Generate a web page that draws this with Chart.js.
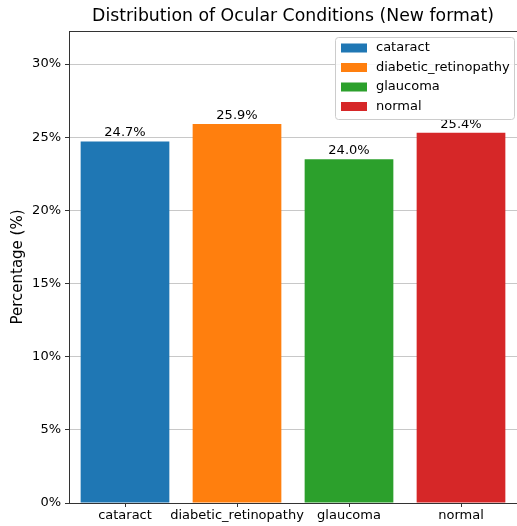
<!DOCTYPE html>
<html>
<head>
<meta charset="utf-8">
<title>Distribution of Ocular Conditions</title>
<script src="https://cdn.jsdelivr.net/npm/chart.js@4.4.0/dist/chart.umd.min.js"></script>
<style>
  html, body { margin: 0; padding: 0; background: #ffffff; }
  #wrap { width: 517px; height: 526px; }
</style>
</head>
<body>
<div id="wrap"><canvas id="conditionsChart" width="517" height="526"></canvas></div>
<script>
// Data
const categories = ['cataract', 'diabetic_retinopathy', 'glaucoma', 'normal'];
const percentages = [24.7, 25.9, 23.5, 25.3];
const valueLabels = ['24.7%', '25.9%', '24.0%', '25.4%'];
const barColors = ['#1f77b4', '#ff7f0e', '#2ca02c', '#d62728'];
const yTicks = [0, 5, 10, 15, 20, 25, 30];
const yMax = 32.26;

const FONT = "'DejaVu Sans', sans-serif";

/**
 * Title, axis label, top spine, value labels and legend
 */
const decorPlugin = {
  id: 'decor',
  afterDatasetsDraw(chart) {
    const ctx = chart.ctx;
    const area = chart.chartArea;
    const meta = chart.getDatasetMeta(0);

    ctx.save();

    // top spine
    ctx.strokeStyle = '#333333';
    ctx.lineWidth = 1;
    ctx.beginPath();
    ctx.moveTo(area.left, area.top + 0.5);
    ctx.lineTo(area.right, area.top + 0.5);
    ctx.stroke();

    // title
    ctx.fillStyle = '#000000';
    ctx.font = '17.3px ' + FONT;
    ctx.textAlign = 'center';
    ctx.textBaseline = 'middle';
    ctx.fillText('Distribution of Ocular Conditions (New format)', (area.left + area.right) / 2, 17);

    // y axis label
    ctx.save();
    ctx.translate(18, (area.top + area.bottom) / 2);
    ctx.rotate(-Math.PI / 2);
    ctx.font = '15px ' + FONT;
    ctx.fillText('Percentage (%)', 0, 0);
    ctx.restore();

    // value labels above bars
    ctx.font = '13px ' + FONT;
    ctx.textBaseline = 'bottom';
    meta.data.forEach((bar, i) => {
      ctx.fillText(valueLabels[i], bar.x, bar.y - 2);
    });

    // legend
    const lx = 335, ly = 37, lw = 179, lh = 82;
    ctx.fillStyle = 'rgba(255,255,255,0.85)';
    ctx.strokeStyle = '#cccccc';
    ctx.beginPath();
    ctx.roundRect(lx + 0.5, ly + 0.5, lw, lh, 3);
    ctx.fill();
    ctx.stroke();

    ctx.textAlign = 'left';
    ctx.textBaseline = 'middle';
    categories.forEach((name, i) => {
      const cy = ly + 11 + i * 19.5;
      ctx.fillStyle = barColors[i];
      ctx.fillRect(lx + 6, cy - 4.5, 26, 9);
      ctx.fillStyle = '#000000';
      ctx.fillText(name, lx + 41, cy);
    });

    ctx.restore();
  }
};

document.addEventListener('DOMContentLoaded', function() {
  const canvas = document.getElementById('conditionsChart');

  new Chart(canvas, {
    type: 'bar',
    data: {
      labels: categories,
      datasets: [{
        data: percentages,
        backgroundColor: barColors,
        borderWidth: 0,
        barPercentage: 0.99,
        categoryPercentage: 0.8
      }]
    },
    options: {
      responsive: false,
      animation: false,
      layout: {
        padding: { top: 31, right: 0, bottom: 0, left: 0 }
      },
      plugins: {
        legend: { display: false },
        title: { display: false },
        tooltip: { enabled: false }
      },
      scales: {
        x: {
          grid: {
            display: true,
            drawOnChartArea: false,
            offset: false,
            tickLength: 4,
            tickColor: '#333333'
          },
          border: { color: '#333333', width: 1 },
          ticks: {
            color: '#000000',
            font: { family: FONT, size: 13 },
            padding: 1,
            maxRotation: 0,
            autoSkip: false
          },
          afterFit(scale) { scale.height = 23; }
        },
        y: {
          min: 0,
          max: yMax,
          grid: {
            color: '#c8c8c8',
            lineWidth: 1,
            tickLength: 4,
            tickColor: '#333333'
          },
          border: { color: '#333333', width: 1 },
          afterBuildTicks(scale) {
            scale.ticks = yTicks.map(v => ({ value: v }));
          },
          ticks: {
            color: '#000000',
            font: { family: FONT, size: 13 },
            padding: 4,
            callback: function(value) { return value + '%'; }
          },
          afterFit(scale) { scale.width = 69; }
        }
      }
    },
    plugins: [decorPlugin]
  });
});
</script>
</body>
</html>
